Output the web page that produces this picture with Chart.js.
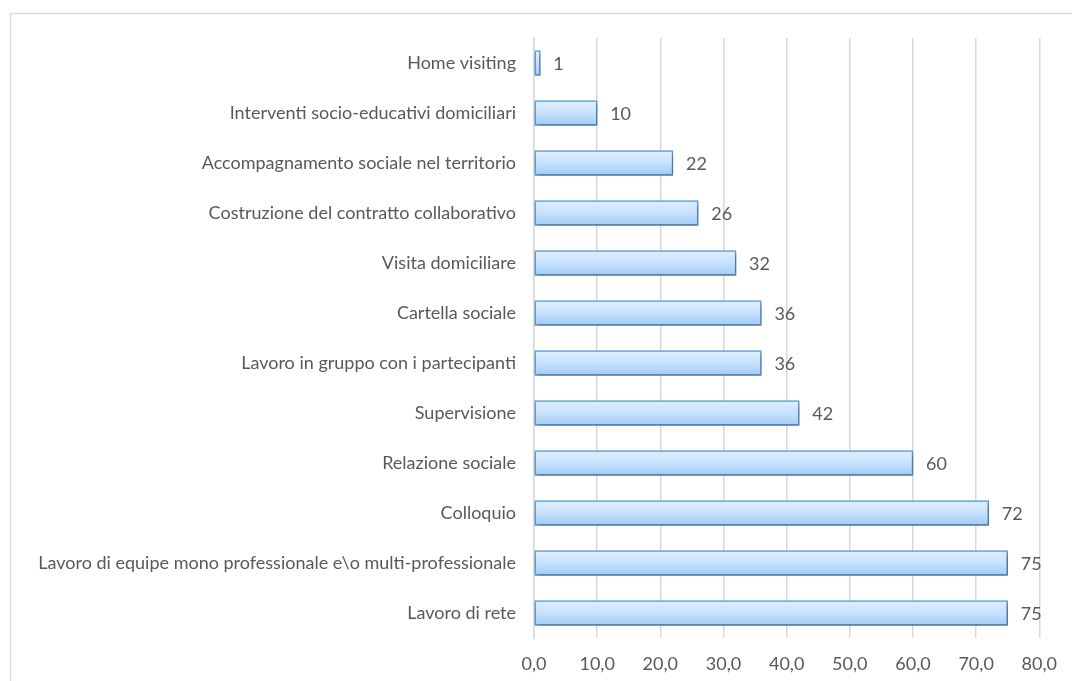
<!DOCTYPE html>
<html>
<head>
<meta charset="utf-8">
<script src="https://cdn.jsdelivr.net/npm/chart.js@4/dist/chart.umd.min.js"></script>
<style>
  html, body { margin: 0; padding: 0; background: #ffffff; }
  #wrap { width: 1072px; height: 681px; position: relative; }
</style>
</head>
<body>
<div id="wrap"><canvas id="c" width="1072" height="681"></canvas></div>
<script>
const categories = [
  "Home visiting",
  "Interventi socio-educativi domiciliari",
  "Accompagnamento sociale nel territorio",
  "Costruzione del contratto collaborativo",
  "Visita domiciliare",
  "Cartella sociale",
  "Lavoro in gruppo con i partecipanti",
  "Supervisione",
  "Relazione sociale",
  "Colloquio",
  "Lavoro di equipe mono professionale e\\o multi-professionale",
  "Lavoro di rete"
];
const values = [1, 10, 22, 26, 32, 36, 36, 42, 60, 72, 75, 75];
const xTicks = [0, 10, 20, 30, 40, 50, 60, 70, 80];

const TEXT = "#595959";
const GRID = "#d9d9d9";
const FONT = "Lato, 'Liberation Sans', sans-serif";
const FONT_SIZE = 18;
const BAR_H = 25;

// vertical gradient for each bar, spanning its own height
function barFill(ctx) {
  const chart = ctx.chart;
  const ys = chart.scales && chart.scales.y;
  if (!ys || ctx.dataIndex === undefined) return "#c5e0fc";
  const cy = ys.getPixelForValue(ctx.dataIndex);
  if (!isFinite(cy)) return "#c5e0fc";
  const g = chart.ctx.createLinearGradient(0, cy - BAR_H / 2, 0, cy + BAR_H / 2);
  g.addColorStop(0, "#e0efff");
  g.addColorStop(0.5, "#c8e1fd");
  g.addColorStop(1, "#9ecbf8");
  return g;
}

// outer frame lines along the top and left edges
const framePlugin = {
  id: "frame",
  beforeDraw(chart) {
    const c = chart.ctx;
    c.save();
    c.strokeStyle = GRID;
    c.lineWidth = 1.5;
    c.beginPath();
    c.moveTo(10.5, 13.5);
    c.lineTo(chart.width, 13.5);
    c.moveTo(10.5, 13.5);
    c.lineTo(10.5, chart.height);
    c.stroke();
    c.restore();
  }
};

// soft drop shadow under the bars
const shadowPlugin = {
  id: "barShadow",
  beforeDatasetsDraw(chart) {
    const c = chart.ctx;
    c.save();
    c.shadowColor = "rgba(0,0,0,0.35)";
    c.shadowBlur = 4;
    c.shadowOffsetX = 1;
    c.shadowOffsetY = 3;
  },
  afterDatasetsDraw(chart) {
    chart.ctx.restore();
  }
};

// value text to the right of each bar
const valueLabels = {
  id: "valueLabels",
  afterDatasetsDraw(chart) {
    const c = chart.ctx;
    const meta = chart.getDatasetMeta(0);
    c.save();
    c.font = FONT_SIZE + "px " + FONT;
    c.fillStyle = TEXT;
    c.textAlign = "left";
    c.textBaseline = "middle";
    meta.data.forEach((bar, i) => {
      c.fillText(String(values[i]), bar.x + 13, bar.y + 1);
    });
    c.restore();
  }
};

new Chart(document.getElementById("c"), {
  type: "bar",
  data: {
    labels: categories,
    datasets: [{
      data: values,
      backgroundColor: barFill,
      borderColor: "#5b9bd5",
      borderWidth: 1.5,
      borderSkipped: false,
      barThickness: BAR_H
    }]
  },
  options: {
    indexAxis: "y",
    responsive: false,
    animation: false,
    layout: { padding: { top: 38, right: 30, left: 0, bottom: 0 } },
    plugins: {
      legend: { display: false },
      tooltip: { enabled: false }
    },
    scales: {
      x: {
        min: 0,
        max: 80,
        afterBuildTicks(scale) {
          scale.ticks = xTicks.map(v => ({ value: v }));
        },
        afterFit(scale) { scale.height = 43; },
        grid: { color: GRID, lineWidth: 1.5, drawTicks: false },
        border: { display: false },
        ticks: {
          color: TEXT,
          font: { family: FONT, size: FONT_SIZE },
          padding: 15,
          callback: v => Number(v).toFixed(1).replace(".", ",")
        }
      },
      y: {
        afterFit(scale) { scale.width = 534; },
        grid: { display: false, drawTicks: false },
        border: { display: true, color: GRID, width: 1.5 },
        ticks: {
          color: TEXT,
          font: { family: FONT, size: FONT_SIZE },
          padding: 18
        }
      }
    }
  },
  plugins: [framePlugin, shadowPlugin, valueLabels]
});
</script>
</body>
</html>
